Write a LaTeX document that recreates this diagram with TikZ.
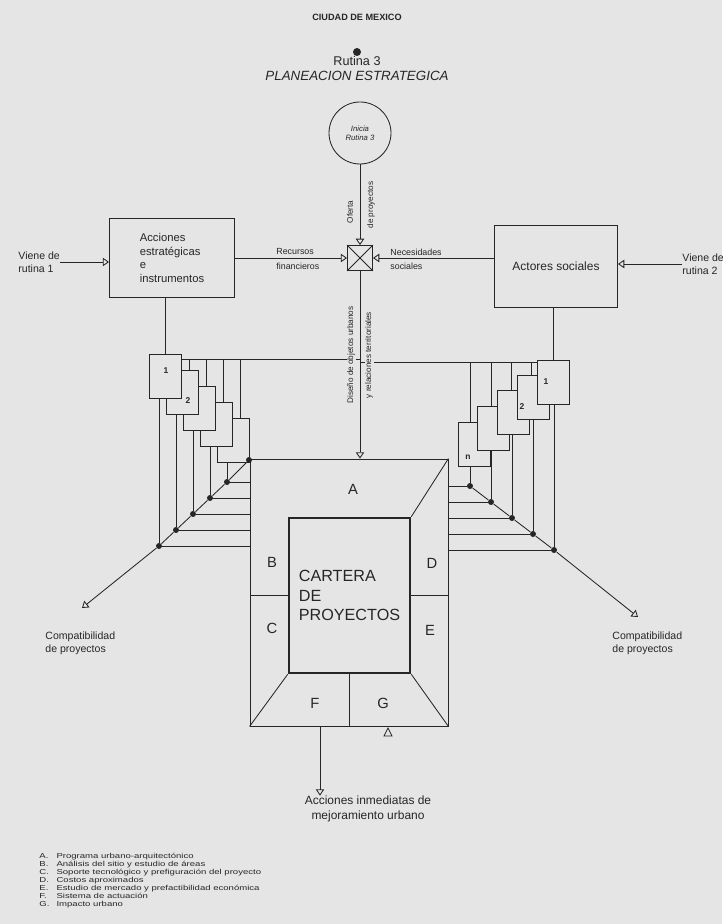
\documentclass[tikz,border=0pt]{standalone}
\usepackage{fontspec}
\setmainfont{Liberation Sans}
\usepackage{xcolor}
\usepackage{graphicx}
\usetikzlibrary{arrows.meta,positioning,calc}
\definecolor{paper}{gray}{0.90}
\definecolor{ink}{gray}{0.15}

\begin{document}
\begin{tikzpicture}[x=0.025cm,y=-0.025cm,color=ink,line width=0.6pt,
    card/.style={draw,fill=paper,inner sep=0pt,anchor=north west,
      minimum width=32*\pu,minimum height=44*\pu},
    dot/.style={circle,fill=ink,inner sep=0pt,minimum size=6*\pu},
    tag/.style={font=\fontsize{7.5}{9.3}\selectfont,align=left,inner sep=0pt},
    tiny/.style={font=\fontsize{5.8}{7}\selectfont,inner sep=0.5pt},
    lett/.style={font=\fontsize{10.5}{12}\selectfont,inner sep=0pt},
    num/.style={font=\fontsize{6}{7}\selectfont\bfseries,inner sep=0pt},
    into/.style={-{Triangle[open,length=4.5pt,width=6pt]}}]
    \def\pu{0.025cm}
    \fill[paper] (0,0) rectangle (722,924);
    \useasboundingbox (0,0) rectangle (722,924);

    % title
    \node[font=\fontsize{6.5}{7}\selectfont\bfseries,inner sep=0pt] (city) at (357,17) {CIUDAD DE MEXICO};
    \node[dot,minimum size=8*\pu] (top) at (357,52) {};
    \node[font=\fontsize{9}{10}\selectfont,inner sep=0pt] (rut) at (357,61) {Rutina 3};
    \node[font=\fontsize{9.5}{11}\selectfont\itshape,inner sep=0pt] (plan) at (357,75.5) {PLANEACION ESTRATEGICA};

    % central column
    \node[draw,circle,fill=paper,minimum size=62*\pu,inner sep=0pt,align=center,
      font=\fontsize{5.5}{6.5}\selectfont\itshape] (ini) at (360,133) {Inicia\\Rutina 3};
    \node[draw,fill=paper,minimum size=25*\pu,inner sep=0pt] (valve) at (360,258) {};
    \draw (valve.north west) -- (valve.south east) (valve.north east) -- (valve.south west);
    \draw[into] (ini) -- (valve);
    \node[tiny,rotate=90] (of1) at (350,212) {Oferta};
    \node[tiny,rotate=90] (of2) at (371,205) {de proyectos};

    \node[draw,fill=paper,minimum width=125*\pu,minimum height=79*\pu,align=left,
      font=\fontsize{8}{9.6}\selectfont] (acc) at (172,258) {Acciones\\estratégicas\\e\\instrumentos};
    \node[draw,fill=paper,minimum width=123*\pu,minimum height=82*\pu,
      font=\fontsize{8.5}{10}\selectfont] (soc) at (556,266) {Actores sociales};

    \node[tag,anchor=west] (v1) at (18,262) {Viene de\\rutina 1};
    \node[tag,anchor=west] (v2) at (682,264) {Viene de\\rutina 2};
    \draw[into] (v1.east) -- (v1.east -| acc.west);
    \draw[into] (v2.west) -- (v2.west -| soc.east);
    \draw[into] (acc.east) -- (acc.east -| valve.west);
    \draw[into] (valve.east -| soc.west) -- (valve.east);
    \node[tag,font=\fontsize{6.3}{10}\selectfont,anchor=west] (rf) at (276,259) {Recursos\\financieros};
    \node[tag,font=\fontsize{6.3}{10}\selectfont,anchor=west] (ns) at (390,259) {Necesidades\\sociales};

    % cartera
    \node[draw,minimum width=198*\pu,minimum height=267*\pu,inner sep=0pt] (outer) at (349,592.5) {};
    \node[draw,line width=1.8pt,minimum width=121*\pu,minimum height=155*\pu,align=left,
      font=\fontsize{11.5}{14}\selectfont] (inner) at (349.5,595.5) {CARTERA\\DE\\PROYECTOS};
    \draw (inner.north east) -- (outer.north east);
    \draw (inner.south west) -- (outer.south west);
    \draw (inner.south east) -- (outer.south east);
    \draw (inner.west) -- (inner.west -| outer.west);
    \draw (inner.east) -- (inner.east -| outer.east);
    \draw (inner.south) -- (inner.south |- outer.south);
    \foreach \l/\x/\y in {A/353/489,B/272/562,C/272/628,D/432/563,E/430/630,F/315/703,G/383/703}
      \node[lett] (z\l) at (\x,\y) {\l};
    \draw[into] (valve.south) -- (valve.south |- outer.north);

    \node[tag,align=center,font=\fontsize{8.5}{10.5}\selectfont] (inm) at (368,809) {Acciones inmediatas de\\mejoramiento urbano};
    \coordinate (fo) at (320,726);
    \draw[into] (fo) -- (fo |- inm.north);
    \draw (384,736) -- (392,736) -- (388,728) -- cycle;

    % project cards, left
    \foreach \n/\x/\y in {5/217/418,4/200/402,3/183/386,2/166/370,1/149/354}
      \node[card] (lc\n) at (\x,\y) {};
    \node[num] (ln1) at (166,371) {1};
    \node[num] (ln2) at (188,401) {2};
    \draw (acc.south -| lc1.north) -- (lc1.north);
    \coordinate (ldl) at (181,359);
    \draw (ldl) -- (ldl -| valve.south);
    \foreach \n/\x in {2/189,3/206,4/223,5/240}
      \draw (\x,359) -- (\x,0 |- lc\n.north);
    \foreach \n/\x/\y in {1/159/546,2/176/530,3/193/514,4/210/498,5/227/482}{
      \node[dot] (ld\n) at (\x,\y) {};
      \draw (\x,0 |- lc\n.south) -- (ld\n);
      \draw (ld\n) -- (ld\n -| outer.west);
    }
    \node[dot] (ld6) at (249,460) {};
    \coordinate (cla) at (82,608);
    \draw[into] (ld6) -- (ld5) -- (ld4) -- (ld3) -- (ld2) -- (ld1) -- (cla);
    \node[tag,anchor=north west] (cl) at (45,631) {Compatibilidad\\de proyectos};

    % project cards, right
    \foreach \n/\x/\y in {5/458/422,4/477/406,3/497/390,2/517/375,1/537/360}
      \node[card] (rc\n) at (\x,\y) {};
    \node[num] (rn1) at (546,382) {1};
    \node[num] (rn2) at (522,407) {2};
    \node[num] (rnn) at (468,457) {n};
    \draw (soc.south -| rc1.north) -- (rc1.north);
    \coordinate (rdl) at (537,362);
    \draw (rdl -| valve.south) -- (rdl);
    \foreach \n/\x in {2/531,3/511,4/491,5/470}
      \draw (\x,362) -- (\x,0 |- rc\n.north);
    \foreach \n/\x/\y in {1/554/550,2/533/534,3/512/518,4/491/502,5/470/486}{
      \node[dot] (rd\n) at (\x,\y) {};
      \draw (\x,0 |- rc\n.south) -- (rd\n);
      \draw (rd\n -| outer.east) -- (rd\n);
    }
    \coordinate (cra) at (638,617);
    \draw[into] (rd5) -- (rd4) -- (rd3) -- (rd2) -- (rd1) -- (cra);
    \node[tag,anchor=north west] (cr) at (612,631) {Compatibilidad\\de proyectos};

    % labels on the central line, over the feed lines
    \node[tiny,rotate=90,fill=paper] (ds1) at (351,355) {Diseño de objetos urbanos};
    \node[tiny,rotate=90,fill=paper] (ds2) at (369,355) {y relaciones territoriales};

    % legend
    \node[anchor=north west,inner sep=0pt,font=\fontsize{6.8}{7.6}\selectfont] (leg) at (39,852) {%
      \scalebox{1}[0.75]{\begin{tabular}{@{}l@{\hspace{5pt}}l@{}}
        A. & Programa urbano-arquitectónico\\
        B. & Análisis del sitio y estudio de áreas\\
        C. & Soporte tecnológico y prefiguración del proyecto\\
        D. & Costos aproximados\\
        E. & Estudio de mercado y prefactibilidad económica\\
        F. & Sistema de actuación\\
        G. & Impacto urbano
      \end{tabular}}};
\end{tikzpicture}
\end{document}
